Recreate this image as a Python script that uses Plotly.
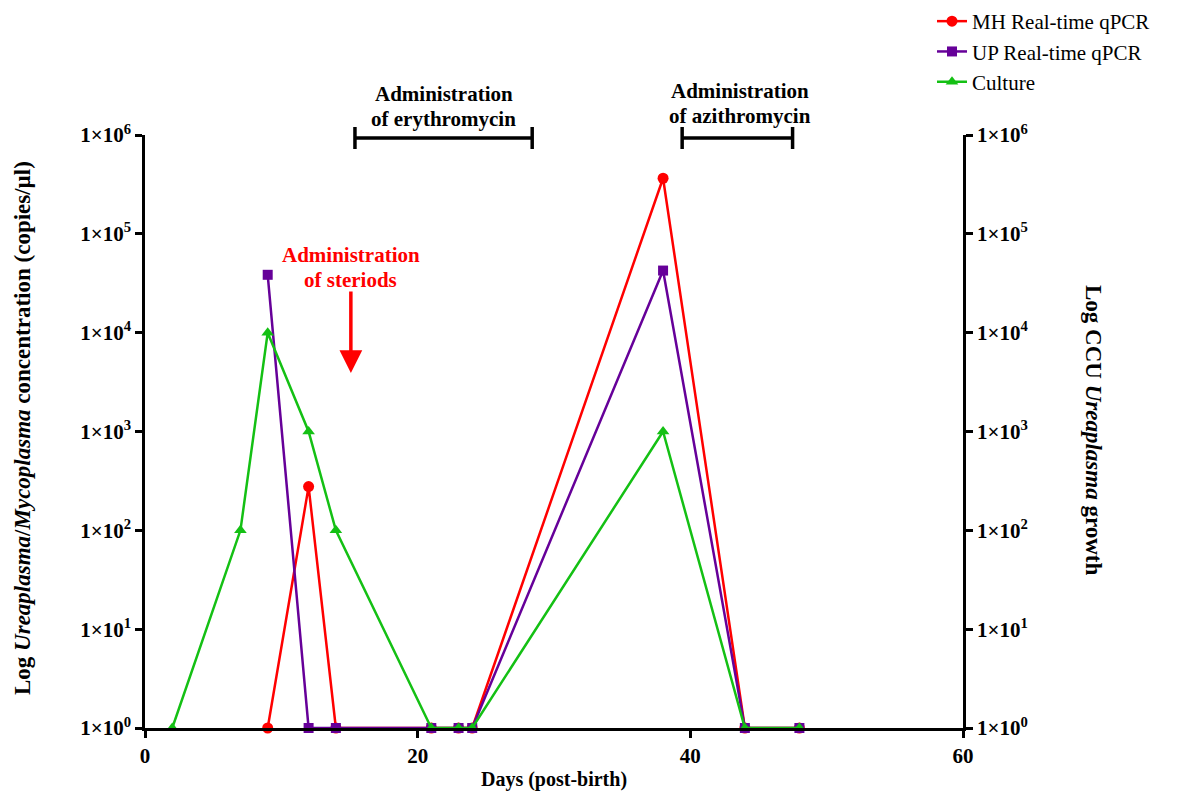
import plotly.graph_objects as go

# Days after birth at which samples were taken
# MH real-time qPCR (copies/µl); 1 = not detected
mh_days = [9, 12, 14, 21, 23, 24, 38, 44, 48]
mh_vals = [1, 277, 1, 1, 1, 1, 365000, 1, 1]

# UP real-time qPCR (copies/µl)
up_days = [9, 12, 14, 21, 23, 24, 38, 44, 48]
up_vals = [38500, 1, 1, 1, 1, 1, 42500, 1, 1]

# Culture (CCU)
cu_days = [2, 7, 9, 12, 14, 21, 23, 24, 38, 44, 48]
cu_vals = [1, 100, 10000, 1000, 100, 1, 1, 1, 1000, 1, 1]

tick_vals = [1, 10, 100, 1000, 10000, 100000, 1000000]
tick_text = ["1×10<sup>%d</sup>" % i for i in range(7)]
x_ticks = [0, 20, 40, 60]

# Treatment windows (days)
erythro = (15.4, 28.4)
azithro = (39.4, 47.5)
steroid_day = 15.1

FONT = "Liberation Serif"
RED = "#FF0000"
PURPLE = "#660099"
GREEN = "#14C014"

# plot area in pixels (top / bottom of the y axis)
TOP, BOTTOM = 135, 728
H = BOTTOM - TOP


def py(pix):
    """paper y coordinate of a pixel row"""
    return (BOTTOM - pix) / H


fig = go.Figure()
fig.add_trace(go.Scatter(
    x=mh_days, y=mh_vals, name="MH Real-time qPCR", mode="lines+markers",
    line=dict(color=RED, width=2.5), marker=dict(symbol="circle", size=11, color=RED),
    cliponaxis=False))
fig.add_trace(go.Scatter(
    x=up_days, y=up_vals, name="UP Real-time qPCR", mode="lines+markers",
    line=dict(color=PURPLE, width=2.5), marker=dict(symbol="square", size=10, color=PURPLE),
    cliponaxis=False))
fig.add_trace(go.Scatter(
    x=cu_days, y=cu_vals, name="Culture", mode="lines+markers", yaxis="y2",
    line=dict(color=GREEN, width=2.5), marker=dict(symbol="triangle-up", size=11, color=GREEN),
    cliponaxis=False))

axis_font = dict(family=FONT, size=21, color="black", weight="bold")
yax = dict(type="log", range=[0, 6], tickvals=tick_vals, ticktext=tick_text,
           showline=True, linecolor="black", linewidth=2.5, ticks="outside",
           ticklen=7, tickwidth=2.5, tickcolor="black", showgrid=False,
           zeroline=False, tickfont=axis_font)

fig.update_layout(
    width=1190, height=796,
    margin=dict(l=145, r=227, t=TOP, b=796 - BOTTOM, autoexpand=False),
    paper_bgcolor="white", plot_bgcolor="white",
    xaxis=dict(range=[0, 60], tickvals=x_ticks, showline=True, linecolor="black",
               linewidth=2.5, ticks="outside", ticklen=7, tickwidth=2.5,
               tickcolor="black", showgrid=False, zeroline=False, tickfont=axis_font,
               title=dict(text="Days (post-birth)", font=dict(axis_font, size=20), standoff=6)),
    yaxis=yax,
    yaxis2=dict(yax, overlaying="y", side="right"),
    legend=dict(x=(932 - 145) / 818, y=py(1), xanchor="left", yanchor="top",
                font=dict(family=FONT, size=21, color="black"),
                bgcolor="rgba(0,0,0,0)"),
    showlegend=True,
)

# Left and right axis titles
fig.add_annotation(
    text="Log <i>Ureaplasma</i>/<i>Mycoplasma</i> concentration (copies/µl)",
    xref="paper", yref="paper", x=(22 - 145) / 818, y=py(428), textangle=-90,
    showarrow=False, font=dict(axis_font, size=23), xanchor="center")
fig.add_annotation(
    text="Log CCU <i>Ureaplasma</i> growth",
    xref="paper", yref="paper", x=(1094 - 145) / 818, y=py(430), textangle=90,
    showarrow=False, font=dict(axis_font, size=23), xanchor="center")


# Treatment brackets
def bracket(x0, x1):
    line = dict(color="black", width=3.5)
    yb, ytop, ybot = py(138), py(127), py(149)
    fig.add_shape(type="line", xref="x", yref="paper", x0=x0, x1=x1, y0=yb, y1=yb, line=line)
    fig.add_shape(type="line", xref="x", yref="paper", x0=x0, x1=x0, y0=ybot, y1=ytop, line=line)
    fig.add_shape(type="line", xref="x", yref="paper", x0=x1, x1=x1, y0=ybot, y1=ytop, line=line)


bracket(*erythro)
bracket(*azithro)


def label(lines, x, rows, color):
    for txt, row in zip(lines, rows):
        fig.add_annotation(text=txt, xref="x", yref="paper", x=x, y=py(row),
                           showarrow=False, yanchor="middle",
                           font=dict(family=FONT, size=21, color=color, weight="bold"))


label(["Administration", "of erythromycin"], (erythro[0] + erythro[1]) / 2, [94, 119], "black")
label(["Administration", "of azithromycin"], (azithro[0] + azithro[1]) / 2 + 0.2, [91, 116], "black")
label(["Administration", "of steriods"], steroid_day, [255, 280], RED)

# Steroid administration arrow
fig.add_annotation(x=steroid_day, y=(BOTTOM - 373) / (H / 6), ax=steroid_day,
                   ay=(BOTTOM - 290) / (H / 6),
                   xref="x", yref="y", axref="x", ayref="y", text="", showarrow=True,
                   arrowhead=2, arrowsize=1.3, arrowwidth=3.5, arrowcolor=RED)

fig.write_html("out.html")
